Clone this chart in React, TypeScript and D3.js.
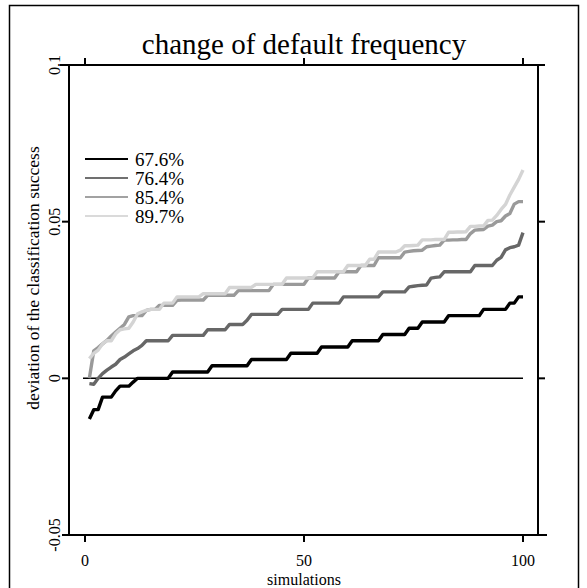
import React from "react";
import * as d3 from "d3";

// Sorted deviations of the classification success over 100 simulations,
// one series per default frequency.
const simulations: number[] = Array.from({ length: 100 }, (_, i) => i + 1);

const series676: number[] = [
  -0.013, -0.010, -0.010, -0.006, -0.006, -0.006, -0.004, -0.0025, -0.0025, -0.0025,
  -0.0012, 0, 0, 0, 0, 0, 0, 0, 0, 0.002,
  0.002, 0.002, 0.002, 0.002, 0.002, 0.002, 0.002, 0.002, 0.004, 0.004,
  0.004, 0.004, 0.004, 0.004, 0.004, 0.004, 0.004, 0.006, 0.006, 0.006,
  0.006, 0.006, 0.006, 0.006, 0.006, 0.006, 0.008, 0.008, 0.008, 0.008,
  0.008, 0.008, 0.008, 0.010, 0.010, 0.010, 0.010, 0.010, 0.010, 0.010,
  0.012, 0.012, 0.012, 0.012, 0.012, 0.012, 0.012, 0.014, 0.014, 0.014,
  0.014, 0.014, 0.014, 0.016, 0.016, 0.016, 0.018, 0.018, 0.018, 0.018,
  0.018, 0.018, 0.020, 0.020, 0.020, 0.020, 0.020, 0.020, 0.020, 0.020,
  0.022, 0.022, 0.022, 0.022, 0.022, 0.022, 0.024, 0.024, 0.026, 0.026,
];

const series764: number[] = [
  -0.0017, -0.0019, 0, 0.0015, 0.0026, 0.0036, 0.0045, 0.006, 0.0068, 0.0078,
  0.0088, 0.0095, 0.0105, 0.012, 0.012, 0.012, 0.012, 0.012, 0.012, 0.0137,
  0.0137, 0.0137, 0.0137, 0.0137, 0.0137, 0.0137, 0.0137, 0.0155, 0.0155, 0.0155,
  0.0155, 0.0155, 0.0172, 0.0172, 0.0172, 0.0172, 0.0185, 0.0204, 0.0204, 0.0204,
  0.0204, 0.0204, 0.0204, 0.0204, 0.022, 0.022, 0.022, 0.022, 0.022, 0.022,
  0.022, 0.024, 0.024, 0.024, 0.024, 0.024, 0.024, 0.024, 0.026, 0.026,
  0.026, 0.026, 0.026, 0.026, 0.026, 0.026, 0.026, 0.0276, 0.0276, 0.0276,
  0.0276, 0.0276, 0.0276, 0.0292, 0.0294, 0.0296, 0.0297, 0.0298, 0.032, 0.0322,
  0.0324, 0.034, 0.034, 0.034, 0.034, 0.034, 0.034, 0.034, 0.036, 0.036,
  0.036, 0.036, 0.036, 0.0377, 0.0386, 0.041, 0.0417, 0.042, 0.0425, 0.0465,
];

const series854: number[] = [
  0, 0.0088, 0.0098, 0.011, 0.0121, 0.0135, 0.0148, 0.016, 0.0172, 0.0196,
  0.020, 0.020, 0.020, 0.0217, 0.022, 0.022, 0.0233, 0.0233, 0.0233, 0.0233,
  0.0249, 0.025, 0.025, 0.025, 0.025, 0.025, 0.025, 0.0265, 0.0265, 0.0265,
  0.0265, 0.0265, 0.0265, 0.0265, 0.028, 0.028, 0.028, 0.028, 0.028, 0.028,
  0.028, 0.028, 0.030, 0.030, 0.030, 0.030, 0.030, 0.030, 0.030, 0.030,
  0.032, 0.032, 0.032, 0.032, 0.032, 0.032, 0.032, 0.034, 0.034, 0.034,
  0.034, 0.034, 0.036, 0.036, 0.036, 0.036, 0.0385, 0.0385, 0.0385, 0.0385,
  0.0385, 0.0385, 0.0403, 0.0405, 0.0407, 0.0408, 0.0409, 0.042, 0.0422, 0.0424,
  0.0425, 0.0441, 0.0441, 0.0442, 0.0442, 0.0443, 0.0443, 0.0462, 0.0473, 0.0474,
  0.0475, 0.0486, 0.0489, 0.050, 0.0503, 0.0518, 0.0526, 0.0556, 0.0564, 0.0564,
];

const series897: number[] = [
  0.0063, 0.008, 0.009, 0.011, 0.012, 0.012, 0.0142, 0.0155, 0.0158, 0.016,
  0.018, 0.0206, 0.0212, 0.0217, 0.022, 0.022, 0.022, 0.024, 0.024, 0.024,
  0.026, 0.026, 0.026, 0.026, 0.026, 0.026, 0.027, 0.027, 0.027, 0.027,
  0.027, 0.027, 0.029, 0.029, 0.029, 0.029, 0.029, 0.029, 0.030, 0.030,
  0.030, 0.030, 0.030, 0.030, 0.030, 0.032, 0.032, 0.032, 0.032, 0.032,
  0.032, 0.032, 0.034, 0.034, 0.034, 0.034, 0.034, 0.034, 0.034, 0.036,
  0.036, 0.036, 0.036, 0.036, 0.038, 0.038, 0.0403, 0.0403, 0.0403, 0.0403,
  0.0403, 0.0409, 0.0423, 0.0423, 0.0424, 0.0425, 0.0442, 0.0442, 0.0442, 0.0443,
  0.0443, 0.0443, 0.0466, 0.0466, 0.0467, 0.0467, 0.0468, 0.0485, 0.0485, 0.0486,
  0.0486, 0.0504, 0.0505, 0.052, 0.0539, 0.0555, 0.0585, 0.061, 0.0635, 0.0665,
];

const legendLabels: string[] = ["67.6%", "76.4%", "85.4%", "89.7%"];
const lineColors: string[] = ["#000000", "#676767", "#9a9a9a", "#d4d4d4"];
const legendColors: string[] = ["#000000", "#707070", "#a2a2a2", "#dadada"];

const xTicks: number[] = [0, 50, 100];
const yTicks: number[] = [0.1, 0.05, 0, -0.05];
const yTickLabels: string[] = ["0.1", "0.05", "0", "-0.05"];

const titleText = "change of default frequency";
const xTitle = "simulations";
const yTitle = "deviation of the classification success";

const W = 587;
const H = 588;
const FONT = "'Liberation Serif', 'Times New Roman', serif";

const left = 69;
const right = 538;
const top = 65;
const bottom = 535;

export default function App() {
  const x = d3.scaleLinear().domain([0, 100]).range([85, 523]);
  const y = d3.scaleLinear().domain([-0.05, 0.1]).range([bottom, top]);

  const allSeries = [series676, series764, series854, series897];
  const line = d3
    .line<number>()
    .x((_, i) => x(simulations[i]))
    .y((d) => y(d));

  const legendY = [159, 178, 197, 216];

  return (
    <svg
      width={W}
      height={H}
      style={{ position: "absolute", left: 0, top: 0, background: "#fff" }}
      fontFamily={FONT}
    >
      <rect x={0} y={0} width={W} height={H} fill="#fff" />
      {/* outer frame */}
      <rect x={9.5} y={5.5} width={569} height={600} fill="none" stroke="#000" strokeWidth={1.5} />

      {/* title */}
      <text x={304} y={54} textAnchor="middle" fontSize={29}>
        {titleText}
      </text>

      {/* zero reference line */}
      <line x1={x(0) - 2} x2={x(100)} y1={y(0)} y2={y(0)} stroke="#000" strokeWidth={1.5} />

      {/* series */}
      {allSeries.map((s, k) => (
        <path
          key={k}
          d={line(s) ?? ""}
          fill="none"
          stroke={lineColors[k]}
          strokeWidth={3.4}
          strokeLinejoin="round"
        />
      ))}

      {/* axes frame */}
      <g stroke="#000" strokeWidth={2}>
        <line x1={left} x2={left} y1={top} y2={bottom + 1} />
        <line x1={right} x2={right} y1={top} y2={bottom + 1} />
        <line x1={60} x2={545} y1={top} y2={top} />
        <line x1={left} x2={547} y1={bottom} y2={bottom} />
        {xTicks.map((t) => (
          <g key={"xt" + t}>
            <line x1={x(t)} x2={x(t)} y1={top} y2={top - 7} />
            <line x1={x(t)} x2={x(t)} y1={bottom} y2={bottom + 7} />
          </g>
        ))}
        {yTicks.map((t) => (
          <g key={"yt" + t}>
            <line x1={left} x2={left - 7} y1={y(t)} y2={y(t)} />
            <line x1={right} x2={right + 7} y1={y(t)} y2={y(t)} />
          </g>
        ))}
      </g>

      {/* y tick labels */}
      {yTicks.map((t, i) => (
        <text
          key={"yl" + t}
          transform={`translate(${left - 9},${y(t)}) rotate(-90)`}
          textAnchor="middle"
          fontSize={16}
        >
          {yTickLabels[i]}
        </text>
      ))}

      {/* x tick labels */}
      {xTicks.map((t) => (
        <text key={"xl" + t} x={x(t)} y={566} textAnchor="middle" fontSize={16}>
          {String(t)}
        </text>
      ))}

      {/* axis titles */}
      <text x={304} y={585} textAnchor="middle" fontSize={16}>
        {xTitle}
      </text>
      <text
        transform={`translate(39,278) rotate(-90)`}
        textAnchor="middle"
        fontSize={17.5}
      >
        {yTitle}
      </text>

      {/* legend */}
      {legendLabels.map((lab, i) => (
        <g key={lab}>
          <line
            x1={85}
            x2={128}
            y1={legendY[i]}
            y2={legendY[i]}
            stroke={legendColors[i]}
            strokeWidth={2.2}
          />
          <text x={135} y={legendY[i] + 7} fontSize={19}>
            {lab}
          </text>
        </g>
      ))}
    </svg>
  );
}
